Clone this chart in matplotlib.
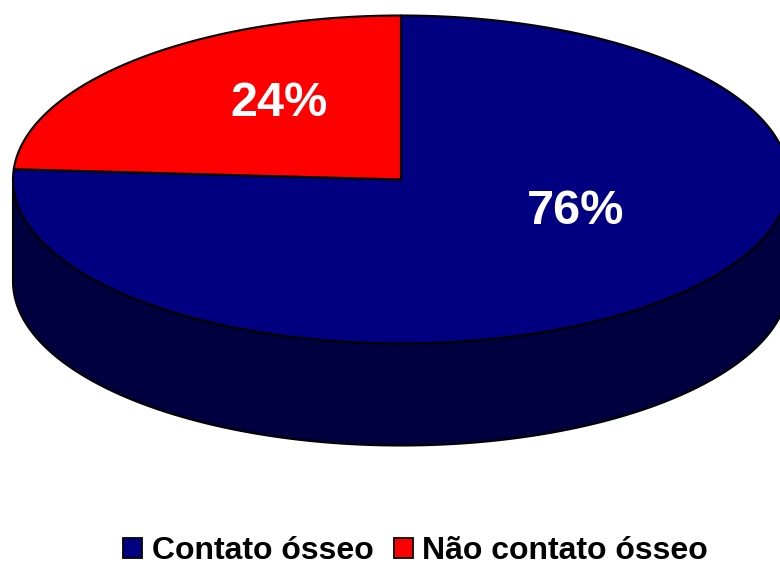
import numpy as np
import matplotlib
matplotlib.use('Agg')
import matplotlib.pyplot as plt
from matplotlib.patches import Polygon, Patch

labels = ['Contato ósseo', 'Não contato ósseo']
values = [76, 24]
pct_labels = ['76%', '24%']
colors = ['#000080', '#ff0000']
side_colors = ['#000040', '#800000']

plt.rcParams['font.family'] = ['Liberation Sans', 'DejaVu Sans']

# pie geometry in pixels
cx, cy = 401, 179.5
rx, ry = 388, 164
depth = 102

fig = plt.figure(figsize=(7.8, 5.62), dpi=100)
ax = fig.add_axes([0, 0, 1, 1])
ax.set_xlim(0, 780)
ax.set_ylim(562, 0)
ax.axis('off')


def rim(a0, a1, n=300):
    # angles measured clockwise from 12 o'clock
    t = np.radians(np.linspace(a0, a1, n))
    return np.column_stack([cx + rx * np.sin(t), cy - ry * np.cos(t)])


# the first slice starts at 12 o'clock and runs clockwise
angles = np.cumsum([0] + values) / sum(values) * 360

# side wall, only the front half of the rim is visible
for i in range(len(values)):
    a0 = max(angles[i], 90)
    a1 = min(angles[i + 1], 270)
    if a1 <= a0:
        continue
    top = rim(a0, a1)
    low = top[::-1] + [0, depth]
    ax.add_patch(Polygon(np.vstack([top, low]), closed=True, fc=side_colors[i],
                         ec='black', lw=1.5, joinstyle='round'))

# top face
for i in range(len(values)):
    pts = np.vstack([[cx, cy], rim(angles[i], angles[i + 1])])
    ax.add_patch(Polygon(pts, closed=True, fc=colors[i], ec='black', lw=1.5,
                         joinstyle='round'))

ax.text(575.5, 212, pct_labels[0], color='white', fontsize=35, fontweight='bold',
        ha='center', va='center')
ax.text(279.5, 104, pct_labels[1], color='white', fontsize=35, fontweight='bold',
        ha='center', va='center')

handles = [Patch(fc=c, ec='black', lw=1.3) for c in colors]
ax.legend(handles, labels, loc='center', bbox_to_anchor=(415.5 / 780, 1 - 551 / 562),
          ncol=2, frameon=False, prop={'size': 23, 'weight': 'bold'},
          handlelength=0.6, handleheight=0.6, handletextpad=0.3, columnspacing=0.63,
          borderpad=0, borderaxespad=0)

fig.savefig('out.png', dpi=100)
